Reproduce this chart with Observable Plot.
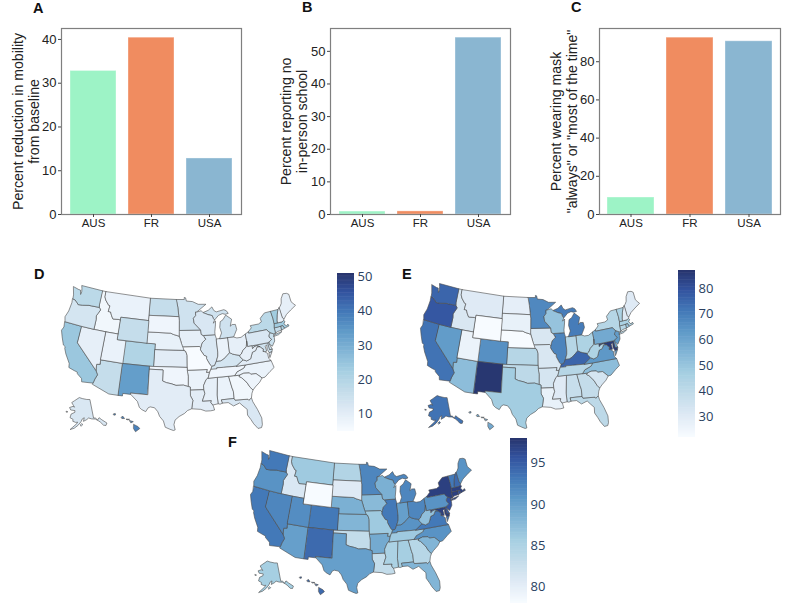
<!DOCTYPE html>
<html><head><meta charset="utf-8">
<script src="https://cdn.jsdelivr.net/npm/d3@7"></script>
<script src="https://cdn.jsdelivr.net/npm/@observablehq/plot@0.6"></script>
<style>
html,body{margin:0;padding:0;background:#fff}
#root{position:relative;width:789px;height:607px;overflow:hidden;font-family:"Liberation Sans",Arial,sans-serif}
#root>svg,#root>figure{position:absolute;margin:0}
.tag{position:absolute;font:bold 14.5px "Liberation Sans",Arial,sans-serif;color:#111;line-height:15px}
</style></head><body><div id="root"></div>
<script>
const countries=["AUS","FR","USA"];
const mobility=[32.8,40.4,12.8];
const noSchool=[0.9,0.95,54.2];
const masks=[8.9,92.6,90.7];
const barColors=["#9df3c6","#f08c60","#8ab6d1"];

const stateOutlines={
AL:[[[-88.2,35],[-85.6,35],[-85.18,32.87],[-85,32.3],[-85,31],[-87.6,31],[-87.45,30.4],[-88,30.25],[-88.4,30.35],[-88.47,31.9],[-88.1,34.9]]],
AK:[[[-141,69.65],[-141,60.3],[-139.2,60.1],[-137.5,58.9],[-135.5,59.8],[-133.5,58.4],[-130,56],[-131.5,55],[-133.5,55.5],[-135.5,57.5],[-136.6,58.2],[-139.5,59.6],[-143,60],[-146,60.7],[-148,60],[-151.5,59.2],[-150.5,61],[-152.5,60.5],[-154,59],[-156.5,57.3],[-160,55.6],[-163.5,54.7],[-161.5,56],[-158,58],[-157.2,58.8],[-159,58.6],[-162,59],[-162,60],[-165.3,60.6],[-164.8,62.5],[-161,63.6],[-161,64.5],[-166,64.5],[-168,65.6],[-164,66.5],[-162,66.2],[-163.7,67],[-166.5,68.3],[-163,69.5],[-156.5,71.3],[-152,70.8],[-146,70.2]],[[-154.6,57.4],[-153.2,58.1],[-152.2,57.6],[-153.6,56.9]],[[-170.5,63.4],[-168.8,63.3],[-170,63]]],
AZ:[[[-114.04,37],[-109.05,37],[-109.05,31.33],[-111.07,31.33],[-114.81,32.5],[-114.72,32.72],[-114.5,33.5],[-114.13,34.3],[-114.63,35],[-114.75,36.1],[-114.04,36.2]]],
AR:[[[-94.62,36.5],[-90.15,36.5],[-90.37,36],[-89.7,36],[-90.1,35],[-90.6,34.7],[-91.2,33.7],[-91.17,33],[-94.04,33],[-94.04,33.55],[-94.48,33.64],[-94.43,35.4]]],
CA:[[[-124.2,42],[-120,42],[-120,39],[-114.63,35],[-114.13,34.3],[-114.5,33.5],[-114.72,32.72],[-117.12,32.53],[-117.3,33.1],[-118.4,33.75],[-118.5,34.03],[-119.2,34.15],[-120.5,34.45],[-120.65,35.15],[-121.9,36.6],[-122.5,37.5],[-122.5,37.8],[-123,38],[-123.8,39.3],[-124.4,40.4],[-124.1,41]]],
CO:[[[-109.05,41],[-102.05,41],[-102.05,37],[-109.05,37]]],
CT:[[[-73.49,41.2],[-73.5,42.05],[-71.8,42.02],[-71.85,41.32],[-72.9,41.25],[-73.65,41]]],
DE:[[[-75.79,39.72],[-75.42,39.8],[-75.5,39.5],[-75.05,38.45],[-75.7,38.46]]],
FL:[[[-87.6,31],[-85,31],[-84.86,30.7],[-82.2,30.57],[-82.05,30.36],[-81.45,30.72],[-81.3,30],[-80.6,28.5],[-80.05,26.9],[-80.15,25.7],[-80.4,25.2],[-81.1,25.15],[-81.8,26.1],[-82.2,26.9],[-82.75,27.8],[-82.65,28.8],[-83.4,29.5],[-84,30.1],[-85.3,29.7],[-86.3,30.4],[-87.45,30.4]]],
GA:[[[-85.6,35],[-83.11,35],[-83.35,34.7],[-82.9,34.48],[-81.9,33.5],[-81.4,32.6],[-80.87,32.03],[-81.2,31.5],[-81.45,30.72],[-82.05,30.36],[-82.2,30.57],[-84.86,30.7],[-85,31],[-85,32.3],[-85.18,32.87]]],
HI:[[[-155.9,20.25],[-155.1,19.85],[-154.8,19.5],[-155.6,18.95],[-155.95,19.5]],[[-156.7,20.95],[-156,20.75],[-156.4,20.55]],[[-158.25,21.55],[-157.95,21.7],[-157.65,21.3],[-158.1,21.3]],[[-159.75,22.1],[-159.4,22.2],[-159.35,21.95],[-159.6,21.9]],[[-157.3,21.2],[-156.7,21.17],[-157.1,21.08]]],
ID:[[[-117.03,49],[-116.05,49],[-116.05,48],[-115.7,47.5],[-114.7,46.7],[-114.35,46.65],[-114.5,45.6],[-113.9,45.6],[-113.45,44.95],[-113,44.45],[-111.5,44.55],[-111.05,44.48],[-111.05,42],[-114.04,42],[-117.03,42],[-117.03,43.8],[-117.2,44.4],[-116.9,44.9],[-116.46,45.6],[-116.92,45.99],[-117.04,46.42]]],
IL:[[[-90.64,42.5],[-87.8,42.5],[-87.55,41.7],[-87.53,39.35],[-87.6,38.7],[-88.05,37.8],[-88.5,37.1],[-89.15,37],[-89.5,37.3],[-90.2,38.4],[-90.15,38.8],[-90.7,39],[-91.5,40],[-91.42,40.38],[-91.05,41.2],[-90.15,41.8]]],
IN:[[[-87.55,41.7],[-87.2,41.75],[-86.8,41.76],[-84.8,41.76],[-84.8,39.1],[-85.4,38.7],[-86.3,38.1],[-87.1,37.8],[-88.05,37.8],[-87.6,38.7],[-87.53,39.35]]],
IA:[[[-96.45,43.5],[-91.22,43.5],[-91.1,42.7],[-90.64,42.5],[-90.15,41.8],[-91.05,41.2],[-91.42,40.38],[-91.73,40.61],[-95.77,40.58],[-95.9,41.2],[-96.1,41.7],[-96.45,42.49]]],
KS:[[[-102.05,40],[-95.31,40],[-94.9,39.8],[-94.61,39.1],[-94.62,37],[-102.05,37]]],
KY:[[[-89.4,36.5],[-89.15,37],[-88.5,37.1],[-88.05,37.8],[-87.1,37.8],[-86.3,38.1],[-85.4,38.7],[-84.8,39.1],[-84.2,38.8],[-83.7,38.65],[-82.6,38.4],[-82.6,38.15],[-81.97,37.54],[-83.68,36.6],[-86.5,36.65],[-88.05,36.68],[-88.07,36.5]]],
LA:[[[-94.04,33],[-91.17,33],[-91,32.3],[-91.6,31],[-89.73,31],[-89.85,30.65],[-89.5,30.2],[-89.4,30],[-89.2,29.3],[-90,29.2],[-91,29.2],[-92,29.55],[-93.84,29.7],[-93.55,31.2],[-94.04,31.99]]],
ME:[[[-71.08,45.3],[-70.8,45.4],[-70.3,45.9],[-70,46.7],[-69.23,47.46],[-68.3,47.35],[-67.8,47.07],[-67.8,45.7],[-67.45,45.3],[-67,44.85],[-68.5,44.3],[-69.8,43.75],[-70.7,43.07],[-70.98,43.4]]],
MD:[[[-79.48,39.72],[-75.79,39.72],[-75.7,38.46],[-75.05,38.45],[-75.25,38.03],[-75.9,37.95],[-76.2,38.6],[-76.1,39.4],[-76.5,39.2],[-76.4,38.3],[-76.9,38.3],[-77.25,38.4],[-77.05,38.8],[-77.5,39.1],[-77.72,39.32],[-78.4,39.6],[-79.1,39.47],[-79.48,39.2]]],
MA:[[[-73.5,42.05],[-73.28,42.75],[-71.3,42.7],[-70.85,42.88],[-70.6,42.65],[-71,42.3],[-70.55,41.8],[-70.1,42.05],[-69.95,41.7],[-71.13,41.5],[-71.38,42.02],[-71.8,42.02]]],
MI:[[[-86.8,41.76],[-84.8,41.76],[-83.45,41.73],[-83.15,42.1],[-82.45,43],[-82.6,43.9],[-83.4,43.95],[-83.9,43.7],[-83.35,44.9],[-84.7,45.75],[-85.5,45],[-86.25,44.7],[-86.5,43.7],[-86.2,42.7]],[[-90.4,46.55],[-89,46.9],[-88,47.45],[-87.6,46.8],[-87,46.5],[-85,46.75],[-84.4,46.5],[-84,46],[-84.8,45.9],[-85.5,46.08],[-86.5,45.85],[-87.6,45.1],[-87.9,45.4],[-88.1,45.9],[-89.1,46.13]]],
MN:[[[-97.23,49],[-95.15,49],[-95.15,49.38],[-94.8,49.3],[-94.6,48.72],[-93,48.6],[-91.5,48.07],[-89.5,48],[-92.01,46.7],[-92.29,46.66],[-92.29,46.08],[-92.9,45.6],[-92.75,44.75],[-91.22,43.5],[-96.45,43.5],[-96.45,45.3],[-96.56,45.94],[-96.85,47.6]]],
MS:[[[-90.1,35],[-88.2,35],[-88.1,34.9],[-88.47,31.9],[-88.4,30.35],[-89.5,30.2],[-89.85,30.65],[-89.73,31],[-91.6,31],[-91,32.3],[-91.17,33],[-91.2,33.7],[-90.6,34.7]]],
MO:[[[-95.77,40.58],[-91.73,40.61],[-91.42,40.38],[-91.5,40],[-90.7,39],[-90.15,38.8],[-90.2,38.4],[-89.5,37.3],[-89.15,37],[-89.4,36.5],[-89.7,36],[-90.37,36],[-90.15,36.5],[-94.62,36.5],[-94.62,37],[-94.61,39.1],[-94.9,39.8],[-95.31,40]]],
MT:[[[-116.05,49],[-104.05,49],[-104.05,45],[-111.05,45],[-111.05,44.48],[-111.5,44.55],[-113,44.45],[-113.45,44.95],[-113.9,45.6],[-114.5,45.6],[-114.35,46.65],[-114.7,46.7],[-115.7,47.5],[-116.05,48]]],
NE:[[[-104.05,43],[-98.5,43],[-97.9,42.8],[-96.45,42.49],[-96.1,41.7],[-95.9,41.2],[-95.31,40],[-102.05,40],[-102.05,41],[-104.05,41]]],
NV:[[[-120,42],[-117.03,42],[-114.04,42],[-114.04,36.2],[-114.75,36.1],[-114.63,35],[-120,39]]],
NH:[[[-71.5,45.01],[-71.08,45.3],[-70.98,43.4],[-70.7,43.07],[-70.85,42.88],[-71.3,42.7],[-72.46,42.73],[-72.45,43.1],[-72.05,44.1]]],
NJ:[[[-74.7,41.36],[-73.9,41],[-74.05,40.65],[-74,40.4],[-74.1,39.75],[-74.9,38.95],[-75.5,39.5],[-75.42,39.8],[-74.72,40.15],[-75.2,40.65],[-75.13,40.98]]],
NM:[[[-109.05,37],[-103,37],[-103.04,32],[-106.62,32],[-106.53,31.78],[-108.2,31.78],[-108.2,31.33],[-109.05,31.33]]],
NY:[[[-79.76,42.27],[-78.9,42.85],[-79.05,43.27],[-77,43.28],[-76.2,43.55],[-76.3,44.2],[-75,44.98],[-73.35,45],[-73.25,43.6],[-73.28,42.75],[-73.5,42.05],[-73.49,41.2],[-73.65,41],[-73.9,41],[-74.7,41.36],[-75.05,41.6],[-75.35,42],[-79.76,42]],[[-74.03,40.62],[-73.75,40.85],[-72.6,40.98],[-71.9,41.07],[-72.8,40.7]]],
NC:[[[-84.32,35],[-83.11,35],[-82.3,35.2],[-81.05,35.1],[-80.8,34.82],[-79.67,34.8],[-78.55,33.86],[-77.9,33.9],[-76.6,34.7],[-75.55,35.25],[-75.87,36.55],[-81.68,36.59],[-82.1,36.1],[-83.7,35.6]]],
ND:[[[-104.05,49],[-97.23,49],[-96.85,47.6],[-96.56,45.94],[-104.05,45.94]]],
OH:[[[-84.8,41.76],[-83.45,41.73],[-82.7,41.5],[-81.7,41.5],[-80.52,41.98],[-80.52,40.64],[-80.85,39.7],[-81.7,39.2],[-82.2,38.6],[-82.6,38.4],[-83.7,38.65],[-84.2,38.8],[-84.8,39.1]]],
OK:[[[-103,37],[-94.62,37],[-94.62,36.5],[-94.43,35.4],[-94.48,33.64],[-95.5,33.9],[-97.1,33.85],[-98,34.1],[-99.2,34.3],[-100,34.56],[-100,36.5],[-103,36.5]]],
OR:[[[-124,46.27],[-123.4,46.2],[-122.8,45.9],[-122.3,45.55],[-121.2,45.65],[-119.6,45.92],[-119,45.93],[-116.92,45.99],[-116.46,45.6],[-116.9,44.9],[-117.2,44.4],[-117.03,43.8],[-117.03,42],[-120,42],[-124.2,42],[-124.55,42.84],[-124.1,44],[-123.95,45.5]]],
PA:[[[-80.52,41.98],[-79.76,42.27],[-79.76,42],[-75.35,42],[-75.05,41.6],[-74.7,41.36],[-75.13,40.98],[-75.2,40.65],[-74.72,40.15],[-75.42,39.8],[-75.79,39.72],[-79.48,39.72],[-80.52,39.72],[-80.52,40.64]]],
RI:[[[-71.8,42.02],[-71.38,42.02],[-71.13,41.5],[-71.85,41.32]]],
SC:[[[-83.11,35],[-82.3,35.2],[-81.05,35.1],[-80.8,34.82],[-79.67,34.8],[-78.55,33.86],[-79.2,33.2],[-80.3,32.5],[-80.87,32.03],[-81.4,32.6],[-81.9,33.5],[-82.9,34.48],[-83.35,34.7]]],
SD:[[[-104.05,45.94],[-96.56,45.94],[-96.45,45.3],[-96.45,43.5],[-96.45,42.49],[-97.9,42.8],[-98.5,43],[-104.05,43]]],
TN:[[[-90.1,35],[-89.7,36],[-89.4,36.5],[-88.07,36.5],[-88.05,36.68],[-86.5,36.65],[-83.68,36.6],[-81.68,36.59],[-82.1,36.1],[-83.7,35.6],[-84.32,35],[-85.6,35],[-88.2,35]]],
TX:[[[-103,36.5],[-100,36.5],[-100,34.56],[-99.2,34.3],[-98,34.1],[-97.1,33.85],[-95.5,33.9],[-94.48,33.64],[-94.04,33.55],[-94.04,33],[-94.04,31.99],[-93.55,31.2],[-93.84,29.7],[-94.7,29.4],[-95.3,28.9],[-96.4,28.35],[-97.2,27.7],[-97.4,26.9],[-97.15,25.96],[-97.5,25.85],[-98.2,26.07],[-99.1,26.4],[-99.5,27.5],[-100.3,28.3],[-100.7,29.1],[-101.4,29.77],[-102.3,29.88],[-102.7,29.7],[-103.15,28.98],[-104,29.3],[-104.5,29.65],[-105,30.65],[-106.53,31.78],[-106.62,32],[-103.04,32]]],
UT:[[[-114.04,42],[-111.05,42],[-111.05,41],[-109.05,41],[-109.05,37],[-114.04,37]]],
VT:[[[-73.35,45],[-71.5,45.01],[-72.05,44.1],[-72.45,43.1],[-72.46,42.73],[-73.28,42.75],[-73.25,43.6]]],
VA:[[[-83.68,36.6],[-81.97,37.54],[-81.23,37.25],[-80.3,37.5],[-79.65,38.6],[-78.87,38.77],[-78.35,39.4],[-77.72,39.32],[-77.5,39.1],[-77.05,38.8],[-77.25,38.4],[-76.9,38.3],[-76.3,37.9],[-76.3,37],[-75.87,36.55],[-81.68,36.59]],[[-75.9,37.95],[-75.25,38.03],[-75.95,37.15]]],
WA:[[[-124.7,48.38],[-123.2,48.15],[-122.75,48.15],[-122.4,47.4],[-122.3,47.9],[-122.5,48.5],[-122.76,49],[-117.03,49],[-117.04,46.42],[-116.92,45.99],[-119,45.93],[-119.6,45.92],[-121.2,45.65],[-122.3,45.55],[-122.8,45.9],[-123.4,46.2],[-124,46.27],[-124.1,46.9]]],
WV:[[[-80.52,40.64],[-80.52,39.72],[-79.48,39.72],[-79.48,39.2],[-79.1,39.47],[-78.4,39.6],[-77.72,39.32],[-78.35,39.4],[-78.87,38.77],[-79.65,38.6],[-80.3,37.5],[-81.23,37.25],[-81.97,37.54],[-82.6,38.15],[-82.6,38.4],[-82.2,38.6],[-81.7,39.2],[-80.85,39.7]]],
WI:[[[-92.01,46.7],[-90.8,46.9],[-90.4,46.55],[-89.1,46.13],[-88.1,45.9],[-87.9,45.4],[-87.6,45.1],[-88,44.55],[-87.4,44.9],[-87.5,44.2],[-87.8,43],[-87.8,42.5],[-90.64,42.5],[-91.1,42.7],[-91.22,43.5],[-92.75,44.75],[-92.9,45.6],[-92.29,46.08],[-92.29,46.66]]],
WY:[[[-111.05,45],[-104.05,45],[-104.05,41],[-111.05,41]]]
};
const stateCodes=Object.keys(stateOutlines);

const valuesD={AL:8,AK:12,AZ:16,AR:8,CA:24,CO:20,CT:16,DE:14,FL:12,GA:6.5,HI:38,ID:6.5,IL:12,IN:8,IA:9,KS:10,KY:13,LA:10,ME:9,MD:14,MA:23,MI:14,MN:14,MS:9,MO:5,MT:8,NE:8.5,NV:9,NH:9,NJ:15,NM:33,NY:18,NC:8,ND:16,OH:9,OK:7,OR:13,PA:12,RI:21,SC:7.5,SD:7,TN:7,TX:10,UT:8,VT:23,VA:10,WA:18,WV:9,WI:12,WY:16};
const valuesE={AL:37,AK:72,AZ:52,AR:33,CA:72,CO:65,CT:42,DE:60,FL:40,GA:38,HI:58,ID:32,IL:68,IN:42,IA:32,KS:42,KY:75,LA:27,ME:30,MD:85,MA:45,MI:70,MN:67,MS:30,MO:32,MT:30,NE:22,NV:62,NH:30,NJ:62,NM:86,NY:42,NC:52,ND:28,OH:44,OK:40,OR:78,PA:58,RI:50,SC:33,SD:27,TN:42,TX:47,UT:26,VT:45,VA:63,WA:75,WV:44,WI:50,WY:22};
const valuesF={AL:85.5,AK:85.5,AZ:90,AR:89,CA:93,CO:93,CT:97,DE:95,FL:88,GA:84,HI:94,ID:81,IL:93,IN:90,IA:87.5,KS:88,KY:91,LA:83,ME:91,MD:97,MA:97,MI:92,MN:92,MS:85,MO:86,MT:86,NE:88.5,NV:92,NH:94,NJ:95.5,NM:94,NY:97,NC:91,ND:84.5,OH:92,OK:83,OR:91,PA:91,RI:96,SC:88,SD:80.5,TN:86,TX:90,UT:91.5,VT:93,VA:93,WA:93,WV:87,WI:88.5,WY:78};
const ramp=["#f7fbff","#dfeaf5","#c3dcea","#a6cfe2","#82b5d6","#5f9ac8","#4379b8","#33539f","#27336b"];

const root=document.getElementById("root");
function place(el,left,top){el.style.left=left+"px";el.style.top=top+"px";el.style.position="absolute";root.appendChild(el);}
function tag(t,x,y){const d=document.createElement("div");d.className="tag";d.textContent=t;d.style.left=x+"px";d.style.top=y+"px";root.appendChild(d);}

// bar panels
function barPanel(values,label,yMax,yTicks,left,frameW,labelDx){
  const data=countries.map((c,i)=>({c,v:values[i]}));
  const p=Plot.plot({
    width:frameW+80,height:240,marginLeft:62,marginRight:18,marginTop:28,marginBottom:26,
    style:{fontFamily:"'Liberation Sans',Arial,sans-serif",background:"transparent",overflow:"visible"},
    x:{domain:countries,paddingInner:0.2,paddingOuter:0.133,label:null},
    y:{domain:[0,yMax],label:null},
    color:{domain:countries,range:barColors},
    marks:[
      Plot.barY(data,{x:"c",y:"v",fill:"c",stroke:"#fff",strokeOpacity:0.35,strokeWidth:1}),
      Plot.frame({stroke:"#7f7f7f",strokeWidth:1.2}),
      Plot.axisX({tickSize:3,tickPadding:1,fontSize:11.5,label:null,stroke:"#444",color:"#222"}),
      Plot.axisY({ticks:yTicks,tickSize:3,tickPadding:2,fontSize:13,label:null,stroke:"#444",color:"#222"}),
      Plot.text([label],{frameAnchor:"left",dx:labelDx,rotate:-90,fontSize:14.1,lineHeight:1.15,fill:"#222",textAnchor:"middle"})
    ]
  });
  place(p,left,0);
}
barPanel(mobility,"Percent reduction in mobility\nfrom baseline",42.5,[0,10,20,30,40],-1,180,-36);
barPanel(noSchool,"Percent reporting no\nin-person school",57,[0,10,20,30,40,50],268,180,-37);
barPanel(masks,'Percent wearing mask\n"always" or "most of the time"',97.4,[0,20,40,60,80],537,181,-36);
tag("A",33,1);tag("B",302,0);tag("C",571,0);

// maps
const features=stateCodes.map(code=>{
  const polys=stateOutlines[code].map(r=>{
    let ring=[...r,r[0]];
    if(d3.geoArea({type:"Polygon",coordinates:[ring]})>2*Math.PI) ring=ring.slice().reverse();
    return [ring];
  });
  return {type:"Feature",id:code,geometry:{type:"MultiPolygon",coordinates:polys}};
});
const albers=d3.geoAlbersUsa();
const lower48={type:"FeatureCollection",features:features.filter(f=>f.id!=="AK"&&f.id!=="HI")};
const [[bx0,by0],[bx1,by1]]=d3.geoPath(albers).bounds(lower48);
function fitted(x0,x1,y0,y1){
  const sx=(x1-x0)/(bx1-bx0),sy=(y1-y0)/(by1-by0);
  const t=d3.geoTransform({point(x,y){this.stream.point(x0+(x-bx0)*sx,y0+(y-by0)*sy);}});
  return {stream:s=>albers.stream(t.stream(s))};
}
function mapPanel(values,dom,box,left,top,w,h){
  const p=Plot.plot({
    width:w,height:h,margin:0,
    style:{background:"transparent",overflow:"visible"},
    projection:fitted(box[0]-left,box[1]-left,box[2]-top,box[3]-top),
    color:{type:"linear",domain:ramp.map((_,i)=>dom[0]+(dom[1]-dom[0])*i/(ramp.length-1)),range:ramp,interpolate:"rgb"},
    marks:[Plot.geo(features,{fill:d=>values[d.id],stroke:"#4a4a4a",strokeWidth:0.6})]
  });
  place(p,left,top);
}
function colorBar(dom,ticks,barX,top,bottom){
  const n=120,steps=d3.range(n).map(i=>({a:dom[0]+(dom[1]-dom[0])*i/n,b:dom[0]+(dom[1]-dom[0])*(i+1.4)/n}));
  const p=Plot.plot({
    width:50,height:bottom-top,marginLeft:0,marginRight:33,marginTop:0,marginBottom:0,
    style:{background:"transparent",overflow:"visible",fontFamily:"'Open Sans',sans-serif"},
    x:{domain:[0,1],axis:null},
    y:{domain:dom,label:null},
    color:{type:"linear",domain:ramp.map((_,i)=>dom[0]+(dom[1]-dom[0])*i/(ramp.length-1)),range:ramp,interpolate:"rgb"},
    marks:[
      Plot.rect(steps,{x1:0,x2:1,y1:"a",y2:d=>Math.min(d.b,dom[1]),fill:d=>d.a,inset:0}),
      Plot.axisY({anchor:"right",ticks,tickSize:0,tickPadding:3,fontSize:13,color:"#2a3f5f",label:null})
    ]
  });
  place(p,barX,top);
}
mapPanel(valuesD,[5,51],[61,295,285,430],40,270,280,175);
colorBar([5,51],[10,20,30,40,50],337,273,431);
mapPanel(valuesE,[22,87],[420,639,283,428],400,270,270,175);
colorBar([22,87],[30,40,50,60,70,80],678,270,437);
mapPanel(valuesF,[78,98],[250,471,450,593],225,440,270,165);
colorBar([78,98],[80,85,90,95],510,438,603);
tag("D",34,267);tag("E",402,267);tag("F",228,435);
</script></body></html>
